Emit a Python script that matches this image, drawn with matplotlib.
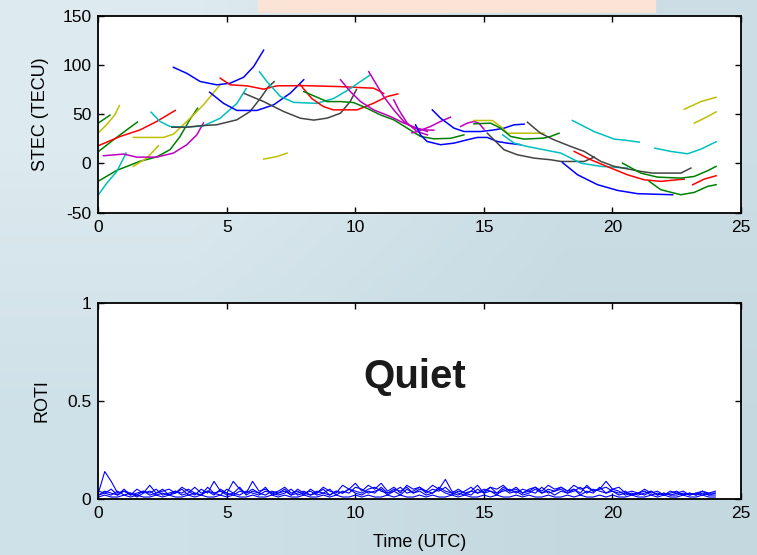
import numpy as np
import matplotlib
matplotlib.use("Agg")
import matplotlib.pyplot as plt
from matplotlib.patches import Rectangle

plt.rcParams['font.family'] = ['Liberation Sans', 'DejaVu Sans']
plt.rcParams['axes.unicode_minus'] = False

# STEC arcs, (time UTC, STEC)
green_1 = [(0, -18), (0.72, -7), (1.62, 2.2), (2.27, 6.6), (2.79, 14), (3.18, 27.4), (3.57, 45), (3.86, 56)]
green_2 = [(0, 12), (0.59, 24), (1.1, 34), (1.52, 42)]
green_3 = [(0, 41), (0.45, 49)]
red_1 = [(0, 18), (0.85, 27.4), (1.62, 34), (2.27, 42.6), (2.99, 53.8)]
yellow_1 = [(0, 31), (0.33, 39.5), (0.65, 49.7), (0.82, 58.8)]
cyan_1 = [(0, -31.8), (0.33, -20), (0.72, -8.2), (0.98, 5.4), (1.08, 10.5)]
yellow_2 = [(1.36, -3), (1.88, 5.4), (2.34, 18)]
magenta_1 = [(0.2, 7.8), (0.98, 9.5), (1.5, 6.4), (2.27, 6.4), (2.92, 10.5), (3.44, 19), (3.83, 29), (4.09, 41)]
yellow_3 = [(1.36, 26.4), (2.53, 26.4), (2.92, 29.7), (3.44, 42.6), (4.09, 59.5), (4.74, 80)]
cyan_2 = [(2.05, 52), (2.4, 42.6), (2.79, 37.5), (3.44, 36.8), (4.09, 38.2), (4.74, 45.9), (5.39, 61), (5.75, 76)]
gray_1 = [(2.86, 36.8), (3.44, 36.8), (3.96, 38.2), (4.61, 39.3), (5.39, 44.3), (5.9, 52.7), (6.3, 66), (6.62, 78), (6.84, 83)]
blue_1 = [(2.92, 97.6), (3.44, 91.5), (3.96, 83.2), (4.61, 79.8), (5.13, 81.5), (5.65, 87.5), (6.04, 98.3), (6.43, 115)]
blue_2 = [(4.33, 72.3), (4.87, 61), (5.39, 53.8), (6.17, 53.8), (6.82, 59.5), (7.47, 71.4), (7.99, 85)]
red_2 = [(4.74, 86.6), (5.13, 79.8), (5.78, 78.8), (6.43, 75.4), (6.95, 78.8), (8.0, 79), (9.42, 78), (10.2, 77), (10.71, 76.4), (10.97, 73), (11.1, 71)]
gray_2 = [(5.68, 71), (6.43, 62.8), (7.21, 52.7), (7.86, 45.9), (8.38, 44), (8.9, 46), (9.42, 51), (9.8, 63), (10.04, 75)]
cyan_3 = [(6.27, 93), (6.56, 83), (7.08, 68), (7.6, 62), (8.5, 61), (9.16, 66), (9.8, 76), (10.58, 90)]
yellow_4 = [(6.43, 4.4), (6.95, 7), (7.34, 10.5)]
red_3 = [(7.85, 80), (8.3, 66), (8.75, 57.8), (9.14, 54.4), (10.07, 54.4), (10.71, 61.2), (11.23, 67.9), (11.65, 70.6)]
green_4 = [(7.99, 73), (8.9, 62.8), (9.42, 62.8), (9.93, 61.8), (10.45, 56), (10.97, 49.3), (11.49, 44.3),
           (12.01, 35.9), (12.53, 27.4), (13.05, 25), (13.7, 25.5), (14.22, 29)]
magenta_2 = [(9.42, 85), (9.8, 73), (10.2, 62.8), (10.71, 54.4), (11.36, 47.6), (11.88, 41), (12.4, 35.9), (12.8, 32.4)]
magenta_3 = [(10.52, 93.2), (10.71, 84.8), (11.1, 67.9), (11.49, 54.4), (11.88, 42.6), (12.27, 35.9), (12.66, 34.1), (13.05, 33.8)]
magenta_4 = [(11.49, 64.5), (11.69, 54.4), (12.01, 41), (12.4, 32.4), (12.8, 29)]
magenta_5 = [(12.2, 31), (12.4, 32.4), (12.92, 37.5), (13.31, 42.6), (13.7, 47)]
blue_3 = [(12.99, 54.4), (13.31, 46), (13.83, 35.9), (14.22, 32.4), (14.87, 32.4), (15.39, 34), (15.78, 35.8), (16.17, 39.2), (16.56, 39.9)]
blue_4 = [(12.34, 39.2), (12.53, 29), (12.79, 22.3), (13.31, 19), (13.83, 20.6), (14.35, 24), (14.74, 26.4),
          (15.13, 26.4), (15.52, 22.3), (15.91, 20.6), (16.43, 19)]
magenta_6 = [(14.09, 37.5), (14.35, 40.9), (14.61, 42.6), (14.8, 40.9), (15.0, 34.8)]
yellow_5 = [(14.61, 43.6), (15.33, 43.6), (15.65, 37.5), (15.91, 30.7), (16.69, 30.7), (17.33, 30.7)]
green_5 = [(14.61, 40.2), (15.26, 40.9), (15.65, 35.8), (16.04, 27.4), (16.56, 24.7), (17.33, 25.7), (17.59, 27.4), (17.92, 30.7)]
gray_3 = [(15.13, 30.7), (15.39, 24), (15.78, 13.9), (16.3, 8.8), (16.95, 5.4), (17.6, 3.7), (18.0, 2), (18.9, 2), (19.29, 6.4)]
cyan_4 = [(15.73, 29), (16.17, 20.6), (16.69, 17.2), (17.33, 13.9), (17.99, 10.5), (18.77, 0.3), (19.55, -3), (20.58, -4.7)]
gray_4 = [(16.69, 41.9), (17.2, 30.7), (17.72, 24), (18.38, 17.2), (18.9, 12.2), (19.55, 2), (20.07, -3),
          (21.1, -8.1), (21.56, -9.8), (22.66, -9.8), (23.05, -4.7)]
cyan_5 = [(18.44, 43.6), (19.16, 34), (19.28, 32.4), (20.07, 24.7), (20.58, 23.3), (21.04, 21.6)]
red_4 = [(18.51, 12.2), (19.16, 3.7), (19.94, -4.7), (20.58, -11.5), (21.23, -16.6), (21.88, -18.2), (22.79, -15.9)]
blue_5 = [(18.05, 1), (18.64, -11.5), (19.42, -21.6), (20.2, -27.4), (20.97, -30.7), (22.34, -31.8)]
green_6 = [(20.39, 0.3), (21.1, -9.8), (21.75, -13.9), (22.66, -14.9), (23.18, -13.2), (23.7, -7.4), (24.03, -3)]
green_7 = [(21.43, -18.2), (21.88, -26.7), (22.66, -31.8), (23.18, -29.4), (23.7, -23.3), (24.03, -21.6)]
red_5 = [(23.12, -21.6), (23.57, -15.9), (24.03, -12.5)]
cyan_6 = [(21.65, 15.5), (22.27, 12.2), (22.92, 9.8), (23.44, 14.5), (24.03, 22)]
yellow_6 = [(22.79, 55), (23.44, 62.8), (24.03, 67.2)]
yellow_7 = [(23.18, 40.9), (23.7, 47.6), (24.03, 52.4)]

# ROTI series, hundredths of TECU/min, every 15 min from 0 to 24 UTC
roti_1 = [3, 14, 9, 3, 4, 2, 5, 3, 7, 3, 4, 5,
          3, 6, 4, 2, 5, 3, 9, 4, 3, 9, 5, 3,
          9, 4, 5, 3, 4, 6, 3, 4, 2, 5, 3, 6,
          4, 3, 7, 5, 8, 4, 7, 5, 8, 4, 6, 3,
          7, 5, 6, 4, 7, 5, 10, 4, 3, 2, 4, 7,
          3, 6, 5, 7, 4, 6, 3, 5, 6, 4, 7, 5,
          6, 4, 7, 5, 6, 4, 5, 9, 5, 6, 3, 4,
          3, 5, 3, 4, 2, 3, 4, 2, 3, 2, 4, 3,
          4]
roti_2 = [2, 3, 2, 4, 2, 3, 1, 3, 4, 2, 3, 2,
          3, 5, 2, 3, 2, 4, 3, 2, 5, 3, 2, 4,
          3, 2, 4, 3, 2, 3, 5, 2, 3, 2, 4, 3,
          2, 4, 3, 5, 3, 2, 4, 3, 6, 3, 4, 2,
          5, 3, 4, 2, 3, 5, 3, 2, 4, 3, 2, 5,
          3, 4, 2, 5, 3, 4, 2, 3, 5, 3, 4, 2,
          4, 3, 5, 2, 4, 3, 6, 3, 4, 2, 3, 2,
          3, 2, 4, 2, 3, 2, 2, 3, 2, 3, 2, 3,
          3]
roti_3 = [1, 2, 1, 1, 2, 1, 2, 1, 1, 2, 1, 2,
          1, 1, 2, 1, 2, 1, 1, 2, 1, 2, 1, 1,
          2, 1, 1, 2, 1, 2, 1, 1, 2, 1, 1, 2,
          1, 2, 1, 1, 2, 1, 2, 1, 1, 2, 1, 2,
          1, 1, 2, 1, 2, 1, 1, 2, 1, 2, 1, 1,
          2, 1, 2, 1, 1, 2, 1, 2, 1, 1, 2, 1,
          1, 2, 1, 2, 1, 1, 2, 1, 2, 1, 1, 2,
          1, 1, 2, 1, 2, 1, 1, 2, 1, 1, 2, 1,
          1]
roti_4 = [4, 3, 5, 2, 4, 3, 2, 4, 3, 5, 2, 3,
          4, 2, 3, 6, 3, 4, 2, 5, 3, 2, 4, 3,
          5, 3, 2, 4, 3, 5, 2, 3, 4, 2, 3, 5,
          2, 4, 3, 5, 4, 3, 5, 6, 4, 3, 5, 4,
          6, 3, 5, 4, 3, 6, 4, 3, 5, 3, 4, 3,
          5, 4, 3, 6, 4, 5, 3, 4, 6, 3, 5, 4,
          6, 4, 5, 3, 7, 4, 5, 6, 4, 3, 4, 2,
          3, 4, 2, 3, 2, 4, 3, 2, 3, 2, 3, 2,
          3]
roti_5 = [2, 4, 3, 2, 5, 2, 3, 4, 2, 3, 5, 2,
          4, 3, 5, 3, 2, 6, 3, 4, 2, 3, 6, 2,
          4, 3, 6, 2, 3, 4, 2, 5, 3, 4, 2, 3,
          5, 2, 4, 3, 6, 5, 3, 4, 5, 2, 4, 6,
          3, 4, 6, 3, 5, 4, 6, 3, 2, 4, 6, 3,
          4, 6, 3, 4, 5, 3, 5, 4, 3, 6, 3, 4,
          5, 3, 4, 6, 3, 5, 4, 3, 5, 4, 2, 3,
          2, 3, 4, 2, 3, 2, 3, 4, 2, 3, 4, 2,
          2]

C_B, C_R, C_G = '#0000ff', '#ff0000', '#008000'
C_C, C_M, C_Y, C_K = '#00bfbf', '#bf00bf', '#bfbf00', '#444444'
arcs = [
    (green_1, C_G), (green_2, C_G), (green_3, C_G), (red_1, C_R), (yellow_1, C_Y), (cyan_1, C_C),
    (yellow_2, C_Y), (magenta_1, C_M), (yellow_3, C_Y), (cyan_2, C_C), (gray_1, C_K), (blue_1, C_B),
    (blue_2, C_B), (red_2, C_R), (gray_2, C_K), (cyan_3, C_C), (yellow_4, C_Y), (red_3, C_R),
    (green_4, C_G), (magenta_2, C_M), (magenta_3, C_M), (magenta_4, C_M), (magenta_5, C_M),
    (blue_3, C_B), (blue_4, C_B), (magenta_6, C_M), (yellow_5, C_Y), (green_5, C_G), (gray_3, C_K),
    (cyan_4, C_C), (gray_4, C_K), (cyan_5, C_C), (red_4, C_R), (blue_5, C_B), (green_6, C_G),
    (green_7, C_G), (red_5, C_R), (cyan_6, C_C), (yellow_6, C_Y), (yellow_7, C_Y),
]

fig = plt.figure(figsize=(7.57, 5.55), dpi=100)

# background: soft blue-grey gradient and the peach strip at the top
bg = fig.add_axes([0, 0, 1, 1], zorder=-10)
grad = np.array([[[0.87, 0.92, 0.94], [0.80, 0.87, 0.90]],
                 [[0.81, 0.88, 0.91], [0.77, 0.85, 0.88]]])
bg.imshow(grad, aspect='auto', interpolation='bilinear', extent=[0, 1, 0, 1])
bg.set_axis_off()
fig.patches.append(Rectangle((258 / 757, 1 - 12 / 555), 397 / 757, 12 / 555,
                             transform=fig.transFigure, color='#fbe3d6', zorder=-5))

ax1 = fig.add_axes([0.1299, 0.6168, 0.849, 0.3549])
ax2 = fig.add_axes([0.1299, 0.1009, 0.849, 0.3537])

for arc, col in arcs:
    t, v = zip(*arc)
    ax1.plot(t, v, color=col, lw=1.1)

for s in [roti_1, roti_5, roti_2, roti_4, roti_3]:
    t = np.linspace(0, 24, len(s))
    ax2.plot(t, np.array(s) / 100, color='#0000ff', lw=0.8)

ax1.set_xlim(0, 25)
ax1.set_ylim(-50, 150)
ax1.set_yticks([-50, 0, 50, 100, 150])
ax1.set_ylabel('STEC (TECU)', fontsize=13)
ax1.yaxis.set_label_coords(-0.077, 0.5)

ax2.set_xlim(0, 25)
ax2.set_ylim(0, 1)
ax2.set_yticks([0, 0.5, 1])
ax2.set_yticklabels(['0', '0.5', '1'])
ax2.set_ylabel('ROTI', fontsize=13)
ax2.yaxis.set_label_coords(-0.074, 0.5)
ax2.set_xlabel('Time (UTC)', fontsize=13)
ax2.xaxis.set_label_coords(0.5, -0.18)
ax2.text(12.3, 0.62, 'Quiet', fontsize=29, fontweight='bold', ha='center', va='center', color='#1a1a1a')

for ax in (ax1, ax2):
    ax.set_xticks([0, 5, 10, 15, 20, 25])
    ax.tick_params(direction='in', top=True, right=True, length=4, width=1,
                   labelsize=12.5, pad=5)
    for sp in ax.spines.values():
        sp.set_linewidth(1.3)

fig.savefig('out.png', dpi=100)
